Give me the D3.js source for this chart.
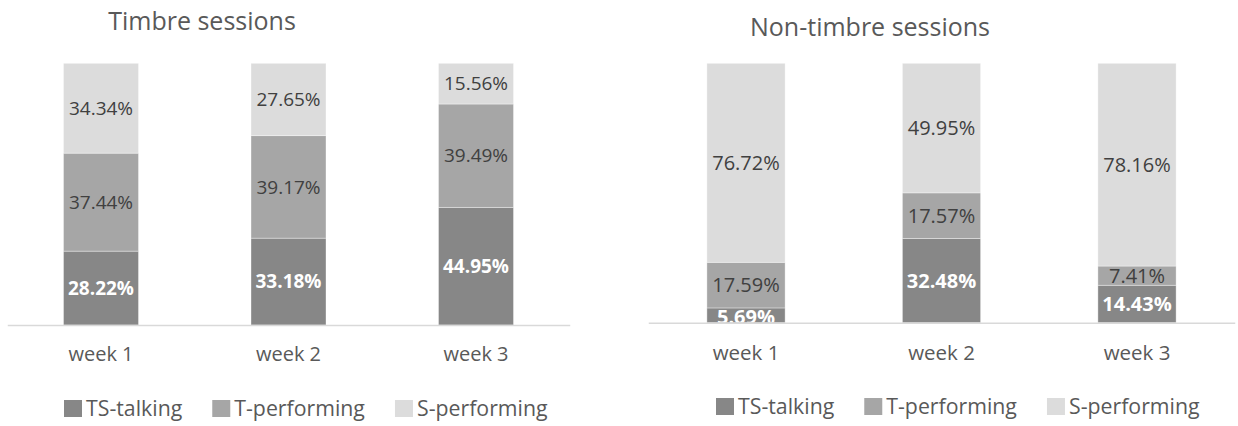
<!DOCTYPE html>
<html>
<head>
<meta charset="utf-8">
<script src="https://cdn.jsdelivr.net/npm/d3@7"></script>
<style>
  body { margin: 0; background: #fff; }
  svg { display: block; }
  text { font-family: "Open Sans", sans-serif; }
</style>
</head>
<body>
<svg id="chart" width="1238" height="426"></svg>
<script>
// Categories and series
const weeks = ["week 1", "week 2", "week 3"];
const seriesNames = ["TS-talking", "T-performing", "S-performing"];

// Timbre sessions (% of session time)
const timbreTalking = [28.22, 33.18, 44.95];
const timbreTPerforming = [37.44, 39.17, 39.49];
const timbreSPerforming = [34.34, 27.65, 15.56];

// Non-timbre sessions (% of session time)
const nonTimbreTalking = [5.69, 32.48, 14.43];
const nonTimbreTPerforming = [17.59, 17.57, 7.41];
const nonTimbreSPerforming = [76.72, 49.95, 78.16];

const colors = { "TS-talking": "#878787", "T-performing": "#a6a6a6", "S-performing": "#dcdcdc" };
const labelColors = { "TS-talking": "#ffffff", "T-performing": "#404040", "S-performing": "#404040" };
const labelWeights = { "TS-talking": "bold", "T-performing": "normal", "S-performing": "normal" };

const panels = [
  {
    id: "timbre", title: "Timbre sessions",
    series: [timbreTalking, timbreTPerforming, timbreSPerforming],
    xRange: [7.25, 569.75], yRange: [325, 63.3],
    titleX: 202, titleY: 30, catY: 361,
    legendX: 64, legendY: 400, labelSize: 19, catSize: 20
  },
  {
    id: "nontimbre", title: "Non-timbre sessions",
    series: [nonTimbreTalking, nonTimbreTPerforming, nonTimbreSPerforming],
    xRange: [648.25, 1234.75], yRange: [322.7, 63.3],
    titleX: 870, titleY: 36, catY: 360,
    legendX: 716, legendY: 398, labelSize: 20, catSize: 20.5
  }
];

const svg = d3.select("#chart");
const defs = svg.append("defs");

panels.forEach(p => {
  const rows = weeks.map((w, i) => {
    const r = { week: w };
    seriesNames.forEach((s, k) => { r[s] = p.series[k][i]; });
    return r;
  });
  const stacked = d3.stack().keys(seriesNames)(rows);

  const x = d3.scaleBand().domain(weeks).range(p.xRange).paddingInner(0.6).paddingOuter(0.3);
  const y = d3.scaleLinear().domain([0, 100]).range(p.yRange);

  const g = svg.append("g");

  // Title
  g.append("text")
    .attr("x", p.titleX).attr("y", p.titleY)
    .attr("text-anchor", "middle")
    .attr("font-size", 25)
    .attr("fill", "#595959")
    .text(p.title);

  // Bars
  const layers = g.selectAll("g.layer").data(stacked).join("g")
    .attr("class", "layer")
    .attr("fill", d => colors[d.key]);
  layers.selectAll("rect").data(d => d).join("rect")
    .attr("x", d => x(d.data.week))
    .attr("width", x.bandwidth())
    .attr("y", d => y(d[1]))
    .attr("height", d => y(d[0]) - y(d[1]))
    .attr("stroke", "#ffffff")
    .attr("stroke-opacity", 0.45)
    .attr("stroke-width", 0.8);

  // Baseline axis
  const axis = g.append("g")
    .attr("transform", `translate(0,${y(0)})`)
    .call(d3.axisBottom(x).tickSize(0).tickPadding(0));
  axis.select(".domain").attr("stroke", "#d9d9d9").attr("stroke-width", 1.5);
  axis.selectAll(".tick text")
    .attr("y", p.catY - y(0))
    .attr("dy", 0)
    .attr("font-size", p.catSize)
    .attr("font-family", "'Open Sans', sans-serif")
    .attr("fill", "#595959");

  // Data labels, clipped at the baseline
  const clipId = "clip-" + p.id;
  defs.append("clipPath").attr("id", clipId)
    .append("rect")
    .attr("x", p.xRange[0]).attr("y", 0)
    .attr("width", p.xRange[1] - p.xRange[0]).attr("height", y(0) - 0.5);

  const labelGroups = g.append("g").attr("clip-path", `url(#${clipId})`)
    .selectAll("g").data(stacked).join("g");
  labelGroups.selectAll("text").data(d => d.map(v => ({ key: d.key, v }))).join("text")
    .attr("x", d => x(d.v.data.week) + x.bandwidth() / 2)
    .attr("y", d => {
      const mid = (y(d.v[0]) + y(d.v[1])) / 2;
      // short segments push their label down against the baseline
      return (y(d.v[0]) - y(d.v[1]) < 20) && d.v[0] === 0 ? mid + 2 : mid;
    })
    .attr("dy", "0.35em")
    .attr("text-anchor", "middle")
    .attr("font-size", p.labelSize)
    .attr("font-weight", d => labelWeights[d.key])
    .attr("fill", d => labelColors[d.key])
    .text(d => (d.v[1] - d.v[0]).toFixed(2) + "%");

  // Legend
  const legend = g.append("g").attr("transform", `translate(${p.legendX},${p.legendY})`);
  let cx = 0;
  seriesNames.forEach(s => {
    const item = legend.append("g").attr("transform", `translate(${cx},0)`);
    item.append("rect").attr("width", 18).attr("height", 17).attr("fill", colors[s]);
    const t = item.append("text")
      .attr("x", 22).attr("y", 8.5).attr("dy", "0.35em")
      .attr("font-size", 21.3)
      .attr("fill", "#595959")
      .text(s);
    cx += 22 + t.node().getComputedTextLength() + 30;
  });
});
</script>
</body>
</html>
